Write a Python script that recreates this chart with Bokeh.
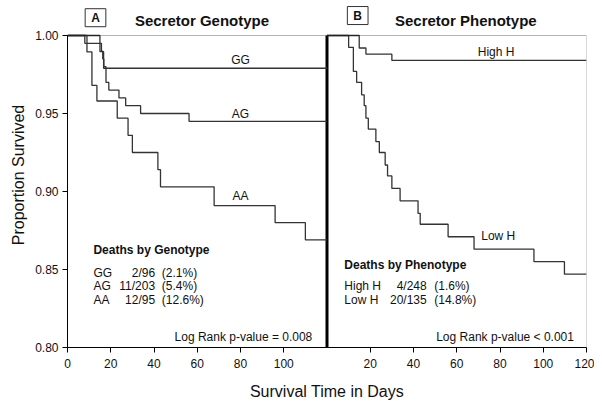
from bokeh.plotting import figure
from bokeh.models import (Range1d, FixedTicker, NumeralTickFormatter, Label, BoxAnnotation)
from bokeh.embed import file_html
from bokeh.resources import INLINE

# ---- data ----
days_max = 120

gg_t = [0, 15.0, 16.7, 120]
gg_s = [1.0, 0.9896, 0.979, 0.979]

ag_t = [0, 8.0, 15.7, 16.3, 16.8, 17.8, 19.1, 23.8, 26.9, 33.8, 56.2, 120]
ag_s = [1.0, 0.995, 0.990, 0.985, 0.980, 0.970, 0.965, 0.960, 0.955, 0.950, 0.945, 0.945]

aa_t = [0, 9.0, 11.3, 13.6, 23.0, 28.0, 30.0, 41.8, 43.0, 67.8, 96.0, 110.0, 120]
aa_s = [1.0, 0.9895, 0.968, 0.958, 0.947, 0.936, 0.925, 0.914, 0.903, 0.891, 0.880, 0.869, 0.869]

hh_t = [0, 14.9, 18.0, 30.0, 120]
hh_s = [1.0, 0.992, 0.988, 0.984, 0.984]

lh_t = [0, 10.0, 12.2, 13.7, 16.0, 17.2, 18.0, 19.1, 22.6, 24.2, 26.9, 28.0, 30.0,
        33.8, 42.1, 43.1, 56.0, 68.0, 95.7, 109.8, 120]
lh_s = [1.0, 0.9924, 0.977, 0.970, 0.962, 0.955, 0.947, 0.940, 0.932, 0.925, 0.917,
        0.910, 0.902, 0.894, 0.886, 0.879, 0.871, 0.863, 0.855, 0.847, 0.847]

geno_names = ["GG", "AG", "AA"]
geno_deaths = ["2/96", "11/203", "12/95"]
geno_pct = ["(2.1%)", "(5.4%)", "(12.6%)"]

pheno_names = ["High H", "Low H"]
pheno_deaths = ["4/248", "20/135"]
pheno_pct = ["(1.6%)", "(14.8%)"]

x_ticks_a = [0, 20, 40, 60, 80, 100]
x_ticks_b = [20, 40, 60, 80, 100, 120]
y_ticks = [0.80, 0.85, 0.90, 0.95, 1.00]
y_lo, y_hi = 0.80, 1.00

FONT = "Liberation Sans"
LINE = "#333333"

# head room above the plotting box for the panel titles (same data scale)
y_top = y_hi + 33 * (y_hi - y_lo) / 312

p = figure(width=594, height=405, output_backend="svg", toolbar_location=None,
           x_range=Range1d(0, 2 * days_max), y_range=Range1d(y_lo, y_top),
           min_border_left=67, min_border_right=8, min_border_top=2, min_border_bottom=58)
p.extra_x_ranges = {"b": Range1d(-days_max, days_max)}

p.xgrid.visible = False
p.ygrid.visible = False
p.outline_line_color = None
p.background_fill_color = "white"
p.border_fill_color = "white"

# axes
ticks_all = x_ticks_a + [t + days_max for t in x_ticks_b]
labels_all = {t: str(t) for t in x_ticks_a}
labels_all.update({t + days_max: str(t) for t in x_ticks_b})
p.xaxis.ticker = FixedTicker(ticks=ticks_all)
p.xaxis.major_label_overrides = labels_all
p.yaxis.ticker = FixedTicker(ticks=y_ticks)
p.yaxis.formatter = NumeralTickFormatter(format="0.00")
p.yaxis.bounds = (y_lo, y_hi)
for ax in (p.xaxis[0], p.yaxis[0]):
    ax.minor_tick_line_color = None
    ax.major_tick_out = 5
    ax.major_tick_in = 0
    ax.axis_line_color = "black"
    ax.major_tick_line_color = "black"
    ax.major_label_text_font = FONT
    ax.major_label_text_font_size = "12px"
    ax.major_label_text_color = "#111111"
    ax.axis_label_text_font = FONT
    ax.axis_label_text_font_style = "normal"
    ax.axis_label_text_font_size = "16px"
    ax.axis_label_text_color = "#111111"
p.xaxis.axis_label = "Survival Time in Days"
p.yaxis.axis_label = "Proportion Survived"
p.xaxis.major_label_standoff = 6
p.yaxis.major_label_standoff = 4
p.xaxis.axis_label_standoff = 12
p.yaxis.axis_label_standoff = 5

# frame box and the divider between the panels
p.add_layout(BoxAnnotation(left=0, right=2 * days_max, bottom=y_lo, top=y_hi,
                           fill_alpha=0, line_color="black", line_width=1))
p.segment(x0=[days_max], y0=[y_lo], x1=[days_max], y1=[y_hi],
          line_color="black", line_width=3)

# curves panel A
for t, s in ((gg_t, gg_s), (ag_t, ag_s), (aa_t, aa_s)):
    p.step(t, s, mode="after", line_color=LINE, line_width=1.3)
# curves panel B
for t, s in ((hh_t, hh_s), (lh_t, lh_s)):
    p.step(t, s, mode="after", line_color=LINE, line_width=1.3, x_range_name="b")


def lab(x, y, text, rng="default", align="center", size="12px", style="normal", **kw):
    p.add_layout(Label(x=x, y=y, text=text, x_range_name=rng, text_align=align,
                       text_baseline="middle", text_font=FONT, text_font_size=size,
                       text_font_style=style, text_color="#111111", **kw))


# titles
lab(62.2, 1.0096, "Secretor Genotype", size="15px", style="bold")
lab(64.2, 1.0096, "Secretor Phenotype", rng="b", size="15px", style="bold")
box = dict(border_line_color="#333333", border_line_width=1, background_fill_color="white",
           padding=dict(left=6, right=6, top=2, bottom=2))
lab(12.95, 1.0114, "A", size="12px", style="bold", **box)
lab(14.2, 1.0128, "B", rng="b", size="12px", style="bold", **box)

# curve labels
lab(80, 0.984, "GG")
lab(80, 0.950, "AG")
lab(80, 0.8973, "AA")
lab(78.2, 0.9897, "High H", rng="b")
lab(79.2, 0.8712, "Low H", rng="b")

# deaths tables
lab(12.0, 0.8625, "Deaths by Genotype", align="left", style="bold")
row_step = 0.0088
for i, (n, d, pc) in enumerate(zip(geno_names, geno_deaths, geno_pct)):
    yy = 0.8480 - i * row_step
    lab(12.0, yy, n, align="left")
    lab(40.5, yy, d, align="right")
    lab(43.6, yy, pc, align="left")

lab(8.0, 0.853, "Deaths by Phenotype", rng="b", align="left", style="bold")
for i, (n, d, pc) in enumerate(zip(pheno_names, pheno_deaths, pheno_pct)):
    yy = 0.8395 - i * row_step
    lab(8.0, yy, n, rng="b", align="left")
    lab(46.1, yy, d, rng="b", align="right")
    lab(49.6, yy, pc, rng="b", align="left")

lab(113.2, 0.807, "Log Rank p-value = 0.008", align="right")
lab(114.2, 0.807, "Log Rank p-value < 0.001", rng="b", align="right")

open("out.html", "w").write(file_html(p, INLINE))
